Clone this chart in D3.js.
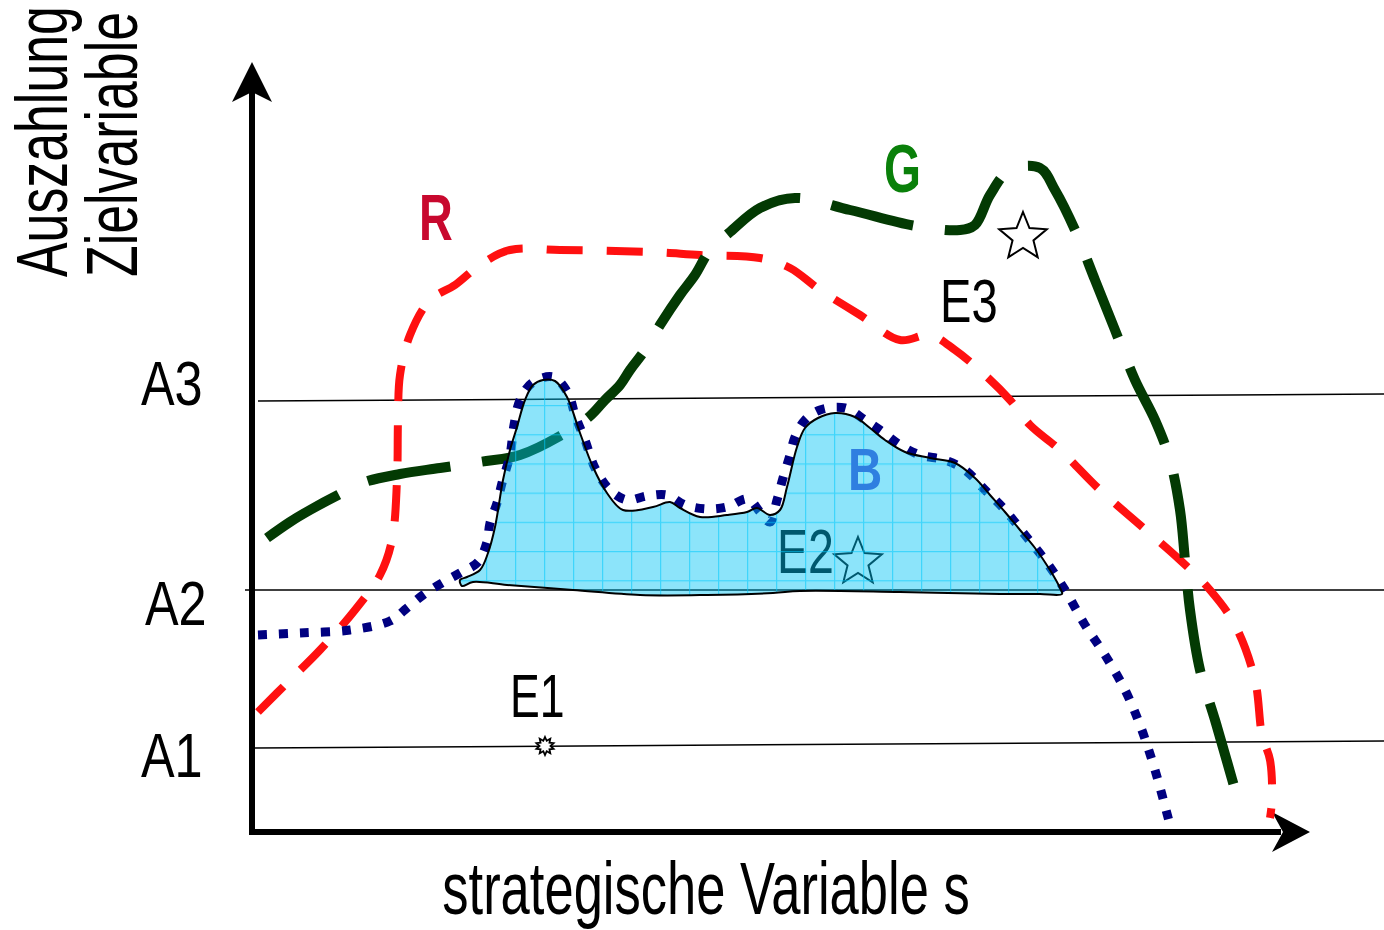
<!DOCTYPE html>
<html><head><meta charset="utf-8">
<script src="https://cdn.jsdelivr.net/npm/d3@7"></script>
<style>html,body{margin:0;padding:0;background:#fff;} svg{display:block;}</style>
</head><body>
<svg id="chart" width="1384" height="930"></svg>
<script>
// ---- data (s = strategic variable, payoff units) ----
const levelLabels = ["A1", "A2", "A3"];
const levelFrom = [0, -10, 3];
const levelTo = [1129, 1129, 1129];
const levelStart = [82, 240, 429];
const levelEnd = [89, 240, 436];

const seriesR = [[3,118],[35,150],[65,180],[100,220],[125,255],[137,290],[142,350],[143,410],[145,455],[155,495],[175,530],[200,545],[225,565],[255,580],[305,580],[395,578],[445,575],[505,572],[535,562],[565,540],[605,515],[645,490],[675,495],[700,480],[730,455],[755,430],[775,405],[805,380],[845,340],[885,305],[925,270],[955,240],[980,205],[1000,150],[1007,95],[1015,70],[1017,30],[1015,12]];

const seriesG = [[12,292],[35,308],[55,320],[83,335],[110,348],[145,356],[185,362],[225,368],[265,375],[305,394],[335,414],[350,430],[365,445],[375,460],[390,480],[405,505],[425,535],[440,555],[455,580],[475,598],[505,622],[540,632],[595,620],[661,604],[705,600],[720,605],[735,635],[755,660],[785,662],[800,640],[820,600],[840,550],[860,500],[880,450],[900,410],[915,370],[925,320],[930,270],[935,220],[945,160],[960,110],[973,65],[983,30]];

const seriesB = [[3,195],[45,197],[95,200],[135,209],[152,222],[168,235],[187,247],[205,257],[223,268],[232,288],[235,307],[242,327],[247,347],[255,375],[259,405],[265,430],[277,447],[298,453],[313,437],[320,415],[330,390],[340,362],[355,340],[372,330],[392,334],[412,335],[430,325],[452,321],[472,323],[493,331],[505,318],[515,308],[522,330],[528,352],[535,375],[540,393],[550,410],[565,420],[590,422],[610,410],[625,400],[645,385],[665,375],[690,370],[710,360],[730,340],[750,320],[770,295],[790,270],[810,240],[830,205],[850,175],[870,140],[885,105],[900,60],[915,5]];

const areaB = [[205,250],[212,253],[225,260],[233,277],[240,303],[248,350],[255,380],[262,403],[270,430],[278,445],[288,450],[300,449],[312,433],[325,397],[338,363],[352,337],[368,320],[398,323],[415,328],[425,322],[445,313],[472,315],[492,318],[502,322],[515,315],[525,320],[532,343],[542,383],[550,402],[563,412],[580,417],[600,413],[615,402],[630,390],[650,378],[675,372],[700,367],[720,352],[735,335],[750,318],[765,300],[780,282],[795,260],[805,242],[807,236],[785,236],[745,236],[645,238],[545,239],[518,237],[452,235],[385,235],[318,240],[252,245],[218,248],[207,244]];

const seriesLabels = ["R", "G", "B"];
const seriesLabelPos = [[164,590],[629,638],[593,340]];
const eqLabels = ["E1", "E2", "E3"];
const eqLabelPos = [[255,113],[522,257],[685,508]];
const eqMarkPos = [[290,84],[603,268],[768,593]];

// ---- layout ----
const svg = d3.select("#chart");
const x = d3.scaleLinear().domain([0, 1050]).range([255, 1305]);
const y = d3.scaleLinear().domain([0, 770]).range([830, 60]);
const FONT = "'Liberation Sans', Arial, Helvetica, sans-serif";

function txt(g, s, px, py, size, sx, opts = {}) {
  return g.append("text")
    .attr("transform", `translate(${px},${py}) ${opts.rot ? "rotate(" + opts.rot + ")" : ""} scale(${sx},1)`)
    .attr("font-family", FONT)
    .attr("font-size", size)
    .attr("font-weight", opts.bold ? "bold" : "normal")
    .attr("fill", opts.fill || "#000")
    .attr("text-anchor", opts.anchor || "start")
    .text(s);
}

const defs = svg.append("defs");
const pat = defs.append("pattern").attr("id", "grid").attr("patternUnits", "userSpaceOnUse")
  .attr("x", 515).attr("y", 405).attr("width", 29).attr("height", 29.2);
pat.append("rect").attr("width", 29).attr("height", 29.2).attr("fill", "rgb(0,195,245)").attr("fill-opacity", 0.45);
pat.append("path").attr("d", "M0.5,0V29.2M0,0.5H29").attr("stroke", "rgb(0,200,250)").attr("stroke-width", 1.5).attr("stroke-opacity", 0.55);

// level lines
const gLev = svg.append("g");
levelLabels.forEach((lab, i) => {
  gLev.append("line")
    .attr("x1", x(levelFrom[i])).attr("y1", y(levelStart[i]))
    .attr("x2", x(levelTo[i])).attr("y2", y(levelEnd[i]))
    .attr("stroke", "#000").attr("stroke-width", 1.5);
});
const levLabelDx = [141, 145, 141];
const levLabelDy = [29, 35, 4];
levelLabels.forEach((lab, i) => {
  txt(svg, lab, levLabelDx[i], y(levelStart[i]) + levLabelDy[i], 63, 0.8);
});

// axes
const axisG = svg.append("g");
axisG.append("line").attr("x1", x(-3)).attr("x2", x(-3)).attr("y1", y(-5)).attr("y2", y(738))
  .attr("stroke", "#000").attr("stroke-width", 6);
axisG.append("line").attr("x1", x(-6)).attr("x2", x(1026)).attr("y1", y(-2)).attr("y2", y(-2))
  .attr("stroke", "#000").attr("stroke-width", 6);
// arrowheads
{
  const ax = x(-3), tipY = y(768);
  axisG.append("path").attr("d", `M${ax},${tipY}L${ax + 20},${tipY + 40}L${ax},${tipY + 30}L${ax - 20},${tipY + 40}Z`).attr("fill", "#000");
  const ay = y(-2), tipX = x(1055);
  axisG.append("path").attr("d", `M${tipX},${ay}L${tipX - 38},${ay + 20}L${tipX - 27},${ay}L${tipX - 38},${ay - 20}Z`).attr("fill", "#000");
}

// curves
const line = d3.line().x(d => x(d[0])).y(d => y(d[1])).curve(d3.curveCatmullRom.alpha(0.5));
const gLines = svg.append("g").attr("fill", "none");
gLines.append("path").datum(seriesR).attr("d", line)
  .attr("stroke", "#ff1010").attr("stroke-width", 8).attr("stroke-dasharray", "36,24");
gLines.append("path").datum(seriesG).attr("d", line)
  .attr("stroke", "#033a03").attr("stroke-width", 10).attr("stroke-dasharray", "84,32");
gLines.append("path").datum(seriesB).attr("d", line)
  .attr("stroke", "#000080").attr("stroke-width", 9).attr("stroke-dasharray", "9,12");

// star path generator
function starPath(R, r, n) {
  const pts = d3.range(2 * n).map(i => [i * Math.PI / n, i % 2 === 0 ? R : r]);
  return d3.lineRadial().angle(d => d[0]).radius(d => d[1]).curve(d3.curveLinearClosed)(pts);
}

// E2 (under translucent area)
txt(svg, eqLabels[1], x(eqLabelPos[1][0]), y(eqLabelPos[1][1]), 62, 0.75);
svg.append("path").attr("d", starPath(25, 11, 5))
  .attr("transform", `translate(${x(eqMarkPos[1][0])},${y(eqMarkPos[1][1])})`)
  .attr("fill", "none").attr("stroke", "#000").attr("stroke-width", 2);

// blue area overlay
const areaLine = d3.line().x(d => x(d[0])).y(d => y(d[1])).curve(d3.curveCatmullRomClosed.alpha(0.5));
svg.append("path").datum(areaB).attr("d", areaLine)
  .attr("fill", "url(#grid)").attr("stroke", "#000").attr("stroke-width", 2);

// series labels
const labCol = ["#c8082e", "#0a800a", "#2f7fe0"];
const labSize = [65, 68, 60];
const labSx = [0.72, 0.7, 0.79];
seriesLabels.forEach((s, i) => {
  txt(svg, s, x(seriesLabelPos[i][0]), y(seriesLabelPos[i][1]), labSize[i], labSx[i], {bold: true, fill: labCol[i]});
});

// E1, E3
txt(svg, eqLabels[0], x(eqLabelPos[0][0]), y(eqLabelPos[0][1]), 62, 0.72);
svg.append("path").attr("d", starPath(9, 5.5, 10))
  .attr("transform", `translate(${x(eqMarkPos[0][0])},${y(eqMarkPos[0][1])})`)
  .attr("fill", "#fff").attr("stroke", "#000").attr("stroke-width", 1.8);
txt(svg, eqLabels[2], x(eqLabelPos[2][0]), y(eqLabelPos[2][1]), 62, 0.76);
svg.append("path").attr("d", starPath(25, 11, 5))
  .attr("transform", `translate(${x(eqMarkPos[2][0])},${y(eqMarkPos[2][1])})`)
  .attr("fill", "#fff").attr("stroke", "#000").attr("stroke-width", 2);

// axis titles
txt(svg, "strategische Variable s", 706, 914, 74, 0.71, {anchor: "middle"});
txt(svg, "Auszahlung", 67, 277, 72, 0.72, {rot: -90});
txt(svg, "Zielvariable", 137, 277, 72, 0.72, {rot: -90});
</script>
</body></html>
